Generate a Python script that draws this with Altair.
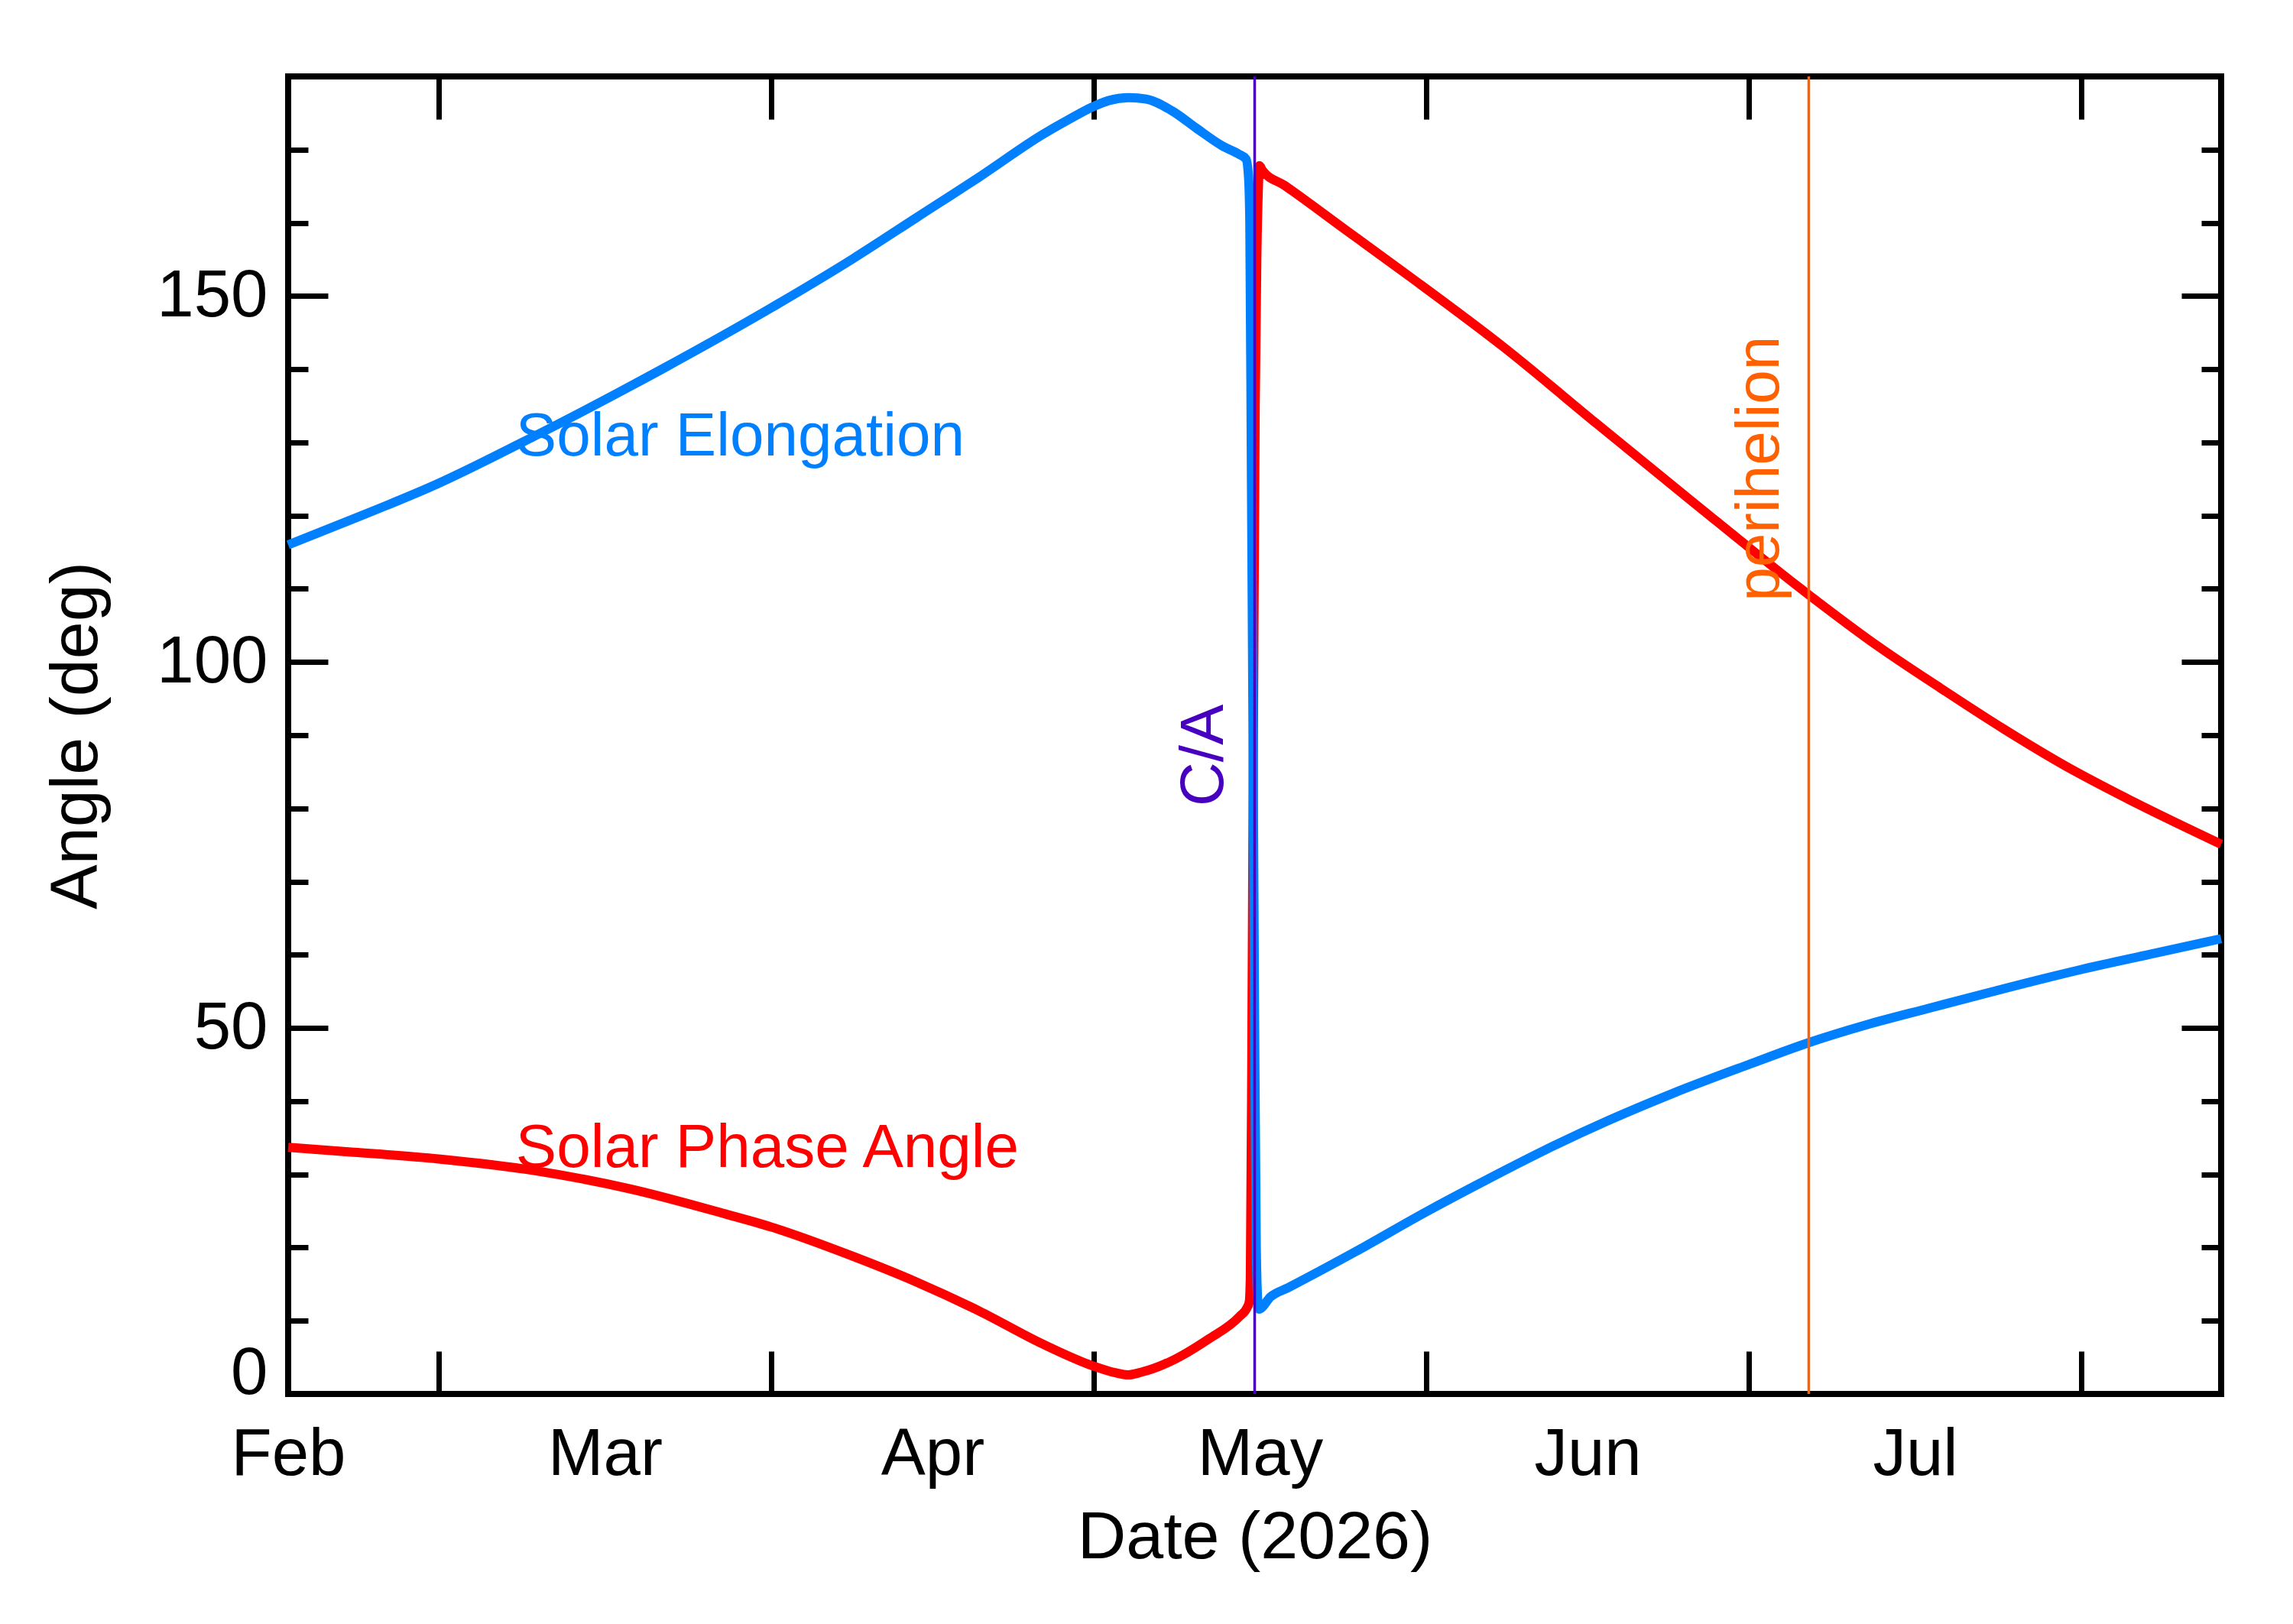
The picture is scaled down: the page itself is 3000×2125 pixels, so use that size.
import altair as alt
import pandas as pd

# readings, x = day of year 2026 (Jan 1 = 1)
elong_day = [46.0, 51.3, 60.0, 69.0, 80.8, 91.0, 98.6, 104.5, 110.4, 116.3,
             118.8, 121.0, 122.4, 124.3, 125.9, 128.3, 130.6, 133.0, 134.5, 135.2,
             135.43, 135.55, 135.7, 135.85, 136.0, 136.15, 136.3, 136.4, 137.5, 139.1,
             145.1, 152.0, 157.0, 163.0, 169.0, 175.0, 182.0, 187.4, 192.9, 198.8,
             204.8, 213.0, 219.8, 226.0]
elong_deg = [116.0, 119.1, 124.4, 130.9, 140.0, 148.4, 155.1, 160.7, 166.3, 172.1,
             174.2, 175.9, 176.7, 177.1, 176.9, 175.3, 172.9, 170.5, 169.4, 168.7,
             166.3, 160.0, 125.0, 90.0, 50.0, 20.0, 12.5, 11.6, 13.3, 14.5,
             19.2, 24.9, 28.8, 33.3, 37.4, 41.1, 45.0, 47.9, 50.4, 52.7,
             55.0, 58.0, 60.2, 62.2]

phase_day = [46.0, 51.4, 60.0, 69.0, 77.9, 86.7, 91.0, 98.6, 104.5, 110.4,
             116.3, 121.0, 123.0, 124.2, 125.5, 128.1, 131.7, 134.6, 135.3, 135.5,
             135.6, 135.75, 135.9, 136.05, 136.2, 136.35, 136.45, 136.7, 138.8, 144.6,
             150.4, 159.2, 167.9, 176.6, 187.5, 194.0, 199.9, 205.7, 211.5, 217.3,
             226.0]
phase_deg = [33.7, 33.1, 32.1, 30.5, 28.0, 24.6, 22.8, 18.8, 15.3, 11.3,
             6.8, 3.8, 2.9, 2.6, 3.0, 4.4, 7.5, 10.6, 11.8, 12.6,
             16.0, 50.0, 95.0, 135.0, 155.0, 165.0, 167.8, 167.2, 165.1, 158.9,
             152.7, 143.0, 132.5, 122.1, 109.3, 102.2, 96.4, 90.9, 85.8, 81.3,
             75.1]

# month boundaries (Feb 1 .. Aug 1) and their names
month_first = [32, 60, 91, 121, 152, 182, 213]
month_names = ["Feb", "Mar", "Apr", "May", "Jun", "Jul"]

ca_day, ca_label_deg = 136.0, 80.3
peri_day, peri_label_deg = 187.6, 108.3

elong_df = pd.DataFrame({"day": elong_day, "deg": elong_deg})
phase_df = pd.DataFrame({"day": phase_day, "deg": phase_deg})

x_min, x_max = 46, 226
tick_days = [d for d in month_first if x_min < d < x_max]
label_days = [(a + b) / 2 for a, b in zip(month_first[:-1], month_first[1:])]
y_vals = list(range(0, 180, 10))

tick_arr = "[" + ",".join(str(float(v)) for v in tick_days) + "]"
lab_arr = "[" + ",".join(str(float(v)) for v in label_days) + "]"
name_arr = "[" + ",".join(f"'{n}'" for n in month_names) + "]"

FONT = "Liberation Sans"

x_scale = alt.Scale(domain=[x_min, x_max], nice=False, zero=False)
y_scale = alt.Scale(domain=[0, 180], nice=False, zero=False)

x_bottom = alt.Axis(
    orient="bottom", values=tick_days + label_days,
    tickSize=alt.ExprRef(expr=f"indexof({tick_arr}, datum.value) >= 0 ? -56 : 0"),
    labelExpr=f"indexof({lab_arr}, datum.value) >= 0 ? {name_arr}[indexof({lab_arr}, datum.value)] : ''",
    labelPadding=36, labelOverlap=False, labelFlush=False, labelBound=False,
    titlePadding=22,
)
x_top = alt.Axis(orient="top", values=tick_days, tickSize=alt.ExprRef(expr="-56"),
                 labels=False)
y_left = alt.Axis(
    orient="left", values=y_vals,
    tickSize=alt.ExprRef(expr="datum.value % 50 === 0 ? -52 : -26"),
    labelExpr="datum.value % 50 === 0 ? datum.label : ''",
    labelOffset=alt.ExprRef(expr="datum.value === 0 ? -27 : 0"),
    labelPadding=79, labelOverlap=False, titlePadding=60,
)
y_right = alt.Axis(orient="right", values=y_vals,
                   tickSize=alt.ExprRef(expr="datum.value % 50 === 0 ? -52 : -26"),
                   labels=False)

phase_line = alt.Chart(phase_df).mark_line(
    color="#FF0000", strokeWidth=12, strokeJoin="round", interpolate="monotone"
).encode(
    x=alt.X("day:Q", scale=x_scale, axis=x_bottom, title="Date (2026)"),
    y=alt.Y("deg:Q", scale=y_scale, axis=y_left, title="Angle (deg)"),
)

elong_line = alt.Chart(elong_df).mark_line(
    color="#0080FF", strokeWidth=12, strokeJoin="round", interpolate="monotone"
).encode(
    x=alt.X("day:Q", axis=None),
    y=alt.Y("deg:Q", axis=None),
)

# invisible layer that carries the top and right tick axes
frame_axes = alt.Chart(elong_df).mark_line(opacity=0).encode(
    x=alt.X("day:Q", axis=x_top, title=None),
    y=alt.Y("deg:Q", axis=y_right, title=None),
)

events = pd.DataFrame({
    "day": [ca_day, peri_day],
    "deg": [ca_label_deg, peri_label_deg],
    "text": ["C/A", "perihelion"],
})

ca_rule = alt.Chart(events.iloc[[0]]).mark_rule(color="#4800C0", strokeWidth=3.5).encode(
    x=alt.X("day:Q", axis=None))
peri_rule = alt.Chart(events.iloc[[1]]).mark_rule(color="#FF6000", strokeWidth=3.5).encode(
    x=alt.X("day:Q", axis=None))

ca_text = alt.Chart(events.iloc[[0]]).mark_text(
    angle=270, align="left", baseline="alphabetic", dy=-42,
    font=FONT, fontSize=80, color="#4800C0"
).encode(x=alt.X("day:Q", axis=None), y=alt.Y("deg:Q", axis=None), text="text:N")

peri_text = alt.Chart(events.iloc[[1]]).mark_text(
    angle=270, align="left", baseline="alphabetic", dy=-39,
    font=FONT, fontSize=80, color="#FF6000"
).encode(x=alt.X("day:Q", axis=None), y=alt.Y("deg:Q", axis=None), text="text:N")

series_labels = pd.DataFrame({
    "day": [67.2, 67.2],
    "deg": [128.2, 31.0],
    "text": ["Solar Elongation", "Solar Phase Angle"],
})

elong_text = alt.Chart(series_labels.iloc[[0]]).mark_text(
    align="left", baseline="alphabetic", font=FONT, fontSize=80, color="#0080FF"
).encode(x=alt.X("day:Q", axis=None), y=alt.Y("deg:Q", axis=None), text="text:N")

phase_text = alt.Chart(series_labels.iloc[[1]]).mark_text(
    align="left", baseline="alphabetic", font=FONT, fontSize=80, color="#FF0000"
).encode(x=alt.X("day:Q", axis=None), y=alt.Y("deg:Q", axis=None), text="text:N")

chart = alt.layer(
    phase_line, elong_line, frame_axes, ca_rule, peri_rule,
    ca_text, peri_text, elong_text, phase_text,
).resolve_axis(
    x="independent", y="independent"
).properties(
    width=2529, height=1724,
    padding={"left": 369, "top": 92, "right": 86, "bottom": 293},
    autosize=alt.AutoSizeParams(type="none"),
    background="white",
).configure_view(
    stroke="black", strokeWidth=8
).configure_axis(
    domain=False, grid=False,
    tickColor="black", tickWidth=7,
    labelFont=FONT, labelFontSize=87, labelColor="black",
    titleFont=FONT, titleFontSize=88, titleFontWeight="normal", titleColor="black",
)

chart.save("out.html", embed_options={"renderer": "svg", "actions": False})
